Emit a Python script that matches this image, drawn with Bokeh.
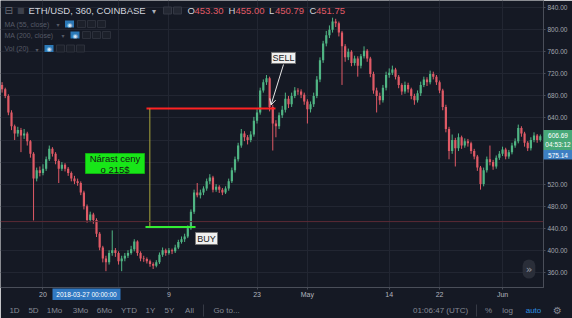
import pandas as pd
from bokeh.plotting import figure
from bokeh.layouts import column
from bokeh.models import (Range1d, FixedTicker, CustomJSTickFormatter, NumeralTickFormatter,
                          Label, BoxAnnotation, Span, Arrow, OpenHead, ColumnDataSource)
from bokeh.core.properties import value
from bokeh.embed import file_html
from bokeh.resources import INLINE

# ---------------- data (12h candles, ETH/USD Coinbase) ----------------
first_open = 700
close = [692, 680, 650, 625, 612, 618, 608, 612, 598, 575,
         530, 545, 540, 548, 565, 584, 575, 562, 548, 555,
         548, 540, 530, 525, 522, 505, 480, 455, 465, 455,
         430, 405, 385, 378, 395, 400, 395, 380, 385, 390,
         395, 402, 416, 395, 385, 384, 380, 375, 372, 378,
         392, 400, 395, 400, 398, 405, 415, 420, 425, 440,
         470, 505, 500, 505, 512, 525, 532, 510, 515, 510,
         505, 512, 525, 545, 565, 590, 612, 605, 600, 610,
         635, 650, 690, 705, 712, 660, 630, 625, 645, 655,
         675, 665, 680, 690, 688, 682, 670, 656, 665, 680,
         710, 745, 775, 790, 800, 815, 812, 795, 770, 750,
         760, 740, 748, 735, 752, 762, 748, 720, 690, 680,
         672, 695, 718, 722, 728, 715, 700, 688, 700, 692,
         680, 672, 685, 700, 710, 705, 720, 715, 705, 690,
         660, 620, 580, 600, 585, 605, 590, 598, 594, 580,
         570, 550, 520, 545, 565, 560, 552, 568, 575, 583,
         570, 578, 590, 598, 622, 612, 595, 585, 600, 608,
         600, 606.69]
high = [705, 695, 683, 654, 628, 624, 622, 620, 615, 600,
        578, 550, 552, 556, 570, 590, 587, 578, 565, 560,
        558, 551, 543, 535, 530, 525, 508, 483, 470, 468,
        458, 433, 408, 390, 400, 436, 404, 398, 390, 395,
        400, 408, 420, 418, 398, 390, 387, 383, 378, 382,
        396, 405, 403, 404, 403, 410, 419, 425, 430, 445,
        474, 510, 522, 510, 516, 530, 538, 535, 520, 518,
        513, 516, 530, 550, 570, 595, 620, 616, 609, 616,
        642, 656, 695, 710, 718, 715, 664, 636, 650, 662,
        686, 680, 686, 696, 694, 692, 686, 674, 670, 686,
        716, 750, 780, 798, 808, 822, 820, 815, 798, 774,
        766, 763, 753, 752, 756, 770, 765, 751, 724, 695,
        686, 700, 724, 730, 735, 731, 718, 703, 706, 704,
        695, 684, 690, 706, 715, 714, 726, 724, 718, 708,
        693, 664, 624, 610, 604, 612, 608, 603, 602, 597,
        584, 573, 553, 550, 570, 590, 564, 572, 580, 588,
        586, 582, 595, 603, 628, 625, 615, 598, 605, 614,
        611, 610]
low = [686, 676, 645, 618, 600, 606, 578, 602, 590, 568,
       454, 525, 534, 536, 544, 562, 570, 556, 522, 544,
       543, 535, 525, 520, 517, 500, 474, 450, 451, 448,
       424, 400, 378, 362, 374, 390, 388, 374, 362, 380,
       386, 392, 398, 390, 380, 379, 376, 370, 366, 369,
       375, 388, 390, 392, 393, 395, 402, 412, 415, 422,
       437, 466, 496, 494, 500, 508, 520, 505, 506, 504,
       500, 502, 508, 522, 541, 561, 586, 598, 592, 596,
       606, 630, 646, 686, 700, 652, 581, 605, 620, 640,
       650, 658, 660, 676, 682, 676, 664, 630, 650, 660,
       676, 705, 740, 770, 785, 795, 805, 788, 700, 742,
       745, 734, 735, 715, 730, 748, 742, 714, 684, 650,
       664, 668, 690, 713, 718, 710, 694, 682, 684, 686,
       674, 664, 668, 680, 696, 698, 701, 710, 700, 685,
       654, 614, 565, 575, 552, 580, 584, 586, 588, 575,
       565, 544, 510, 516, 541, 554, 546, 548, 564, 571,
       565, 566, 574, 586, 594, 606, 588, 580, 581, 596,
       595, 597]
first_candle = "2018-03-13 12:00"
candle_period = "12h"

grid_dates = ["2018-03-20", "2018-04-01", "2018-04-09", "2018-04-23",
              "2018-05-01", "2018-05-14", "2018-05-22", "2018-06-01"]
label_dates = ["2018-03-20", "2018-04-09", "2018-04-23",
               "2018-05-01", "2018-05-14", "2018-05-22", "2018-06-01"]
grid_prices = [360, 400, 440, 480, 520, 560, 600, 640, 680, 720, 760, 800, 840]
label_prices = [360, 400, 440, 480, 520, 640, 680, 720, 760, 800, 840]

# drawings on the chart
buy_price = 442
sell_price = 657
buy_line_dates = ["2018-04-05 06:45", "2018-04-13 05:30"]
sell_line_dates = ["2018-04-05 10:30", "2018-04-25 22:20"]
range_line_date = "2018-04-05 23:20"
crosshair_price = 452
header_ohlc = [("O", "453.30"), ("H", "455.00"), ("L", "450.79"), ("C", "451.75")]
last_price, countdown, ma_price = "606.69", "04:53:12", "575.14"
crosshair_date = "2018-03-27 00:00:00"
toolbar_items = ["1D", "5D", "1Mo", "3Mo", "6Mo", "YTD", "1Y", "5Y", "All", "Go to...",
                 "01:06:47 (UTC)", "%", "log"]

# ---------------- styling ----------------
BG = "#151924"
GRID = "#222632"
UP = "#50b584"
DOWN = "#e05a66"
AXC = "#4a4e59"
TXT = "#b2b5be"
FONT = "Liberation Sans"

DAY = 86400000
T0 = pd.Timestamp("2018-03-20").value / 1e6
x0 = T0 - 6.751 * DAY
x1 = T0 + 79.507 * DAY
y0, y1 = 332.4, 853.2
FW, FH = 543, 287


def X(px):
    return x0 + px / FW * (x1 - x0)


def Y(py):
    return y1 - py / FH * (y1 - y0)


def ms(s):
    return pd.Timestamp(s).value / 1e6


times = pd.date_range(first_candle, periods=len(close), freq=candle_period)
opens = [first_open] + close[:-1]
src = ColumnDataSource(dict(
    t=times, o=opens, c=close, h=high, l=low,
    top=[max(o, c) for o, c in zip(opens, close)],
    bot=[min(o, c) for o, c in zip(opens, close)],
    col=[UP if c >= o else DOWN for o, c in zip(opens, close)],
))

p = figure(width=572, height=318, x_axis_type="datetime", y_axis_location="right",
           x_range=Range1d(x0, x1), y_range=Range1d(y0, y1), title=None,
           output_backend="svg", toolbar_location=None, frame_align=False,
           min_border_left=0, min_border_top=0, min_border_right=29, min_border_bottom=31)
p.background_fill_color = BG
p.border_fill_color = BG
p.outline_line_color = None

p.xgrid.ticker = FixedTicker(ticks=[ms(s) for s in grid_dates])
p.ygrid.ticker = FixedTicker(ticks=grid_prices)
p.xgrid.grid_line_color = GRID
p.ygrid.grid_line_color = GRID

p.xaxis.ticker = FixedTicker(ticks=[ms(s) for s in label_dates])
p.xaxis.formatter = CustomJSTickFormatter(code="""
const d = new Date(tick);
const m = ["Jan","Feb","Mar","Apr","May","Jun","Jul","Aug","Sep","Oct","Nov","Dec"];
return d.getUTCDate() == 1 ? m[d.getUTCMonth()] : String(d.getUTCDate());
""")
p.yaxis.ticker = FixedTicker(ticks=label_prices)
p.yaxis.formatter = NumeralTickFormatter(format="0.00")
for ax in (p.xaxis[0], p.yaxis[0]):
    ax.axis_line_color = AXC
    ax.major_tick_line_color = AXC
    ax.minor_tick_line_color = None
    ax.major_tick_in = 0
    ax.major_tick_out = 2
    ax.major_label_standoff = 2
    ax.major_label_text_font = FONT
    ax.major_label_text_color = TXT
p.xaxis.major_label_standoff = 1
p.xaxis.major_label_text_font_size = "7px"
p.yaxis.major_label_text_font_size = "6.5px"
p.yaxis.major_label_text_color = "#a3a6af"

# crosshair horizontal
p.add_layout(Span(location=crosshair_price, dimension="width", line_color="#5c2a36", line_width=1))

# candles
p.segment(x0="t", y0="h", x1="t", y1="l", color="col", line_width=1, source=src)
p.vbar(x="t", width=0.7 * 12 * 3600 * 1000, top="top", bottom="bot",
       fill_color="col", line_color=None, source=src)

# drawings
p.segment(x0=[pd.Timestamp(sell_line_dates[0])], y0=[sell_price],
          x1=[pd.Timestamp(sell_line_dates[1])], y1=[sell_price], line_color="#ff2222", line_width=2)
p.segment(x0=[pd.Timestamp(buy_line_dates[0])], y0=[buy_price],
          x1=[pd.Timestamp(buy_line_dates[1])], y1=[buy_price], line_color="#33ee33", line_width=2)
p.segment(x0=[pd.Timestamp(range_line_date)], y0=[buy_price],
          x1=[pd.Timestamp(range_line_date)], y1=[sell_price], line_color="#a9a63c", line_width=1)


def lab(px, py, text, size, color, align="left", font=FONT, **kw):
    p.add_layout(Label(x=X(px), y=Y(py), text=text, text_font_size=f"{size}px",
                       text_color=color, text_align=align, text_baseline="middle",
                       text_font=font, **kw))


def box(l, r, t, b, fill, line=None, lw=1):
    p.add_layout(BoxAnnotation(left=X(l), right=X(r), top=Y(t), bottom=Y(b),
                               fill_color=fill, fill_alpha=1,
                               line_color=line, line_alpha=1 if line else 0, line_width=lw))


# green info box
box(85, 144, 153, 173, "#18e618", "#10b010")
lab(114.5, 163.5, "Nárast ceny\no 215$", 9.5, "#151515", align="center", text_line_height=0.95)
# BUY / SELL
box(195, 217, 232, 244, "#f0f0f0", "#777777")
lab(206, 238.3, "BUY", 9, "#202020", align="center")
box(271, 295, 52, 63, "#f0f0f0", "#777777")
lab(283, 57.8, "SELL", 9, "#202020", align="center")
p.add_layout(Arrow(end=OpenHead(size=6, line_color="#e6e6e6", line_width=1),
                   x_start=X(283), y_start=Y(64), x_end=X(270.5), y_end=Y(104.5),
                   line_color="#e6e6e6", line_width=1))

# header
lab(4, 10, "⊟", 10, "#6a6d78", font="DejaVu Sans")
lab(16.5, 10, "■", 8, "#3c404b", font="DejaVu Sans")
lab(28, 10, "ETH/USD, 360, COINBASE", 9.5, "#d1d4dc")
lab(151.5, 10.5, "▾", 8, "#aeb1ba", font="DejaVu Sans")
box(163, 171, 6.5, 13.5, "#242833", "#343844")
box(173, 181, 6.5, 13.5, "#242833", "#343844")
hx = [(187, 194), (228, 235), (268.5, 274.5), (309, 315.5)]
for (k, v), (kx, vx) in zip(header_ohlc, hx):
    lab(kx, 10, k, 9.5, "#d1d4dc")
    lab(vx, 10, v, 9.5, DOWN)

# indicator legend
LEG = "#565a66"
rows = [("MA (55, close)", 23.5, 56, 69, [77, 87, 97]),
        ("MA (200, close)", 34.5, 61, 74.5, [82, 92, 102]),
        ("Vol (20)", 48, 35, 48.5, [56, 66, 76])]
for txt, ry, ax_, ex, sq in rows:
    lab(4, ry, txt, 7, LEG)
    lab(ax_, ry + 0.5, "▾", 6, LEG, font="DejaVu Sans")
    box(ex - 4.5, ex + 4.5, ry - 3.5, ry + 3.5, "#2b78b6")
    lab(ex, ry, "◉", 6, "#d5e5f4", align="center", font="DejaVu Sans")
    for s in sq:
        box(s, s + 8, ry - 3.5, ry + 3.5, "#1c202a", "#2c303b")

# scroll button
lab(528.5, 268.5, "»", 11, "#9598a1", align="center", font="DejaVu Sans",
    background_fill_color="#2a2e39", padding=3, border_radius=8)

# ---------------- overlay (pixel space) for scale labels and bottom toolbar ----------------
ov = figure(width=572, height=318, x_range=Range1d(0, 572), y_range=Range1d(318, 0),
            x_axis_location=None, y_axis_location=None, title=None,
            output_backend="svg", toolbar_location=None, min_border=0, frame_align=False,
            styles={"margin-top": "-318px"})
ov.background_fill_alpha = 0
ov.border_fill_alpha = 0
ov.outline_line_color = None
ov.grid.visible = False


def otext(xs, ys, texts, size, color, align="center", font=FONT):
    ov.text(x=xs, y=ys, text=texts, text_font=value(font), text_font_size=value(f"{size}px"),
            text_color=color, text_align=align, text_baseline="middle")


# last price / countdown box, MA value box, crosshair date box
ov.quad(left=[543, 543, 52], right=[572, 572, 120], top=[129.5, 149.5, 288], bottom=[149.5, 159, 299.5],
        fill_color=["#47a878", "#3d7fc2", "#3179c2"], line_color=None)
otext([557.5, 557.5, 557.5], [134.8, 144.2, 154.5], [last_price, countdown, ma_price], 6.5, "#ffffff")
otext([86], [294], [crosshair_date], 6.5, "#ffffff")

# bottom toolbar
TB = "#858994"
tb_x = [14, 33, 54, 80, 104, 128.5, 150, 169, 189, 226, 440, 488, 507]
otext(tb_x, [310] * len(tb_x), toolbar_items, 8, TB)
otext([533], [310], ["auto"], 8, "#2f8fe0")
otext([557], [310], ["⚙"], 10, TB, font="DejaVu Sans")
ov.segment(x0=[203, 476], y0=[304, 304], x1=[203, 476], y1=[316, 316], line_color="#363a45", line_width=1)

layout = column(p, ov, spacing=0)
open("out.html", "w").write(file_html(layout, INLINE))
